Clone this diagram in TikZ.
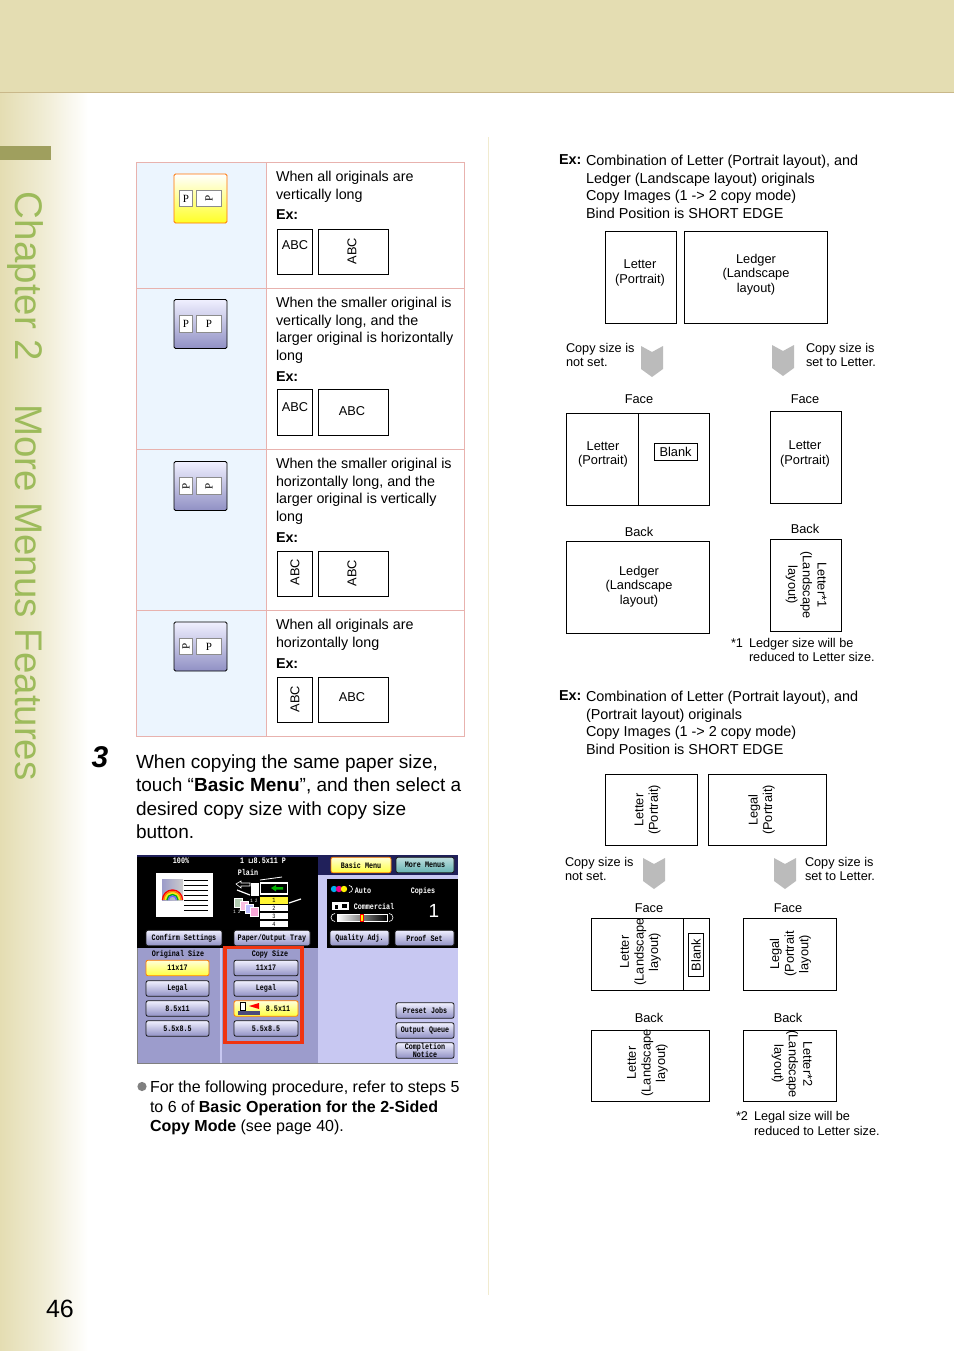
\documentclass[tikz,border=0pt]{standalone}
\usepackage{fontspec}
\setmainfont{Liberation Sans}
\newfontfamily\screenfont[FakeStretch=0.8]{Liberation Mono}
\newfontfamily\glyphfont{Liberation Serif}
\newfontfamily\symfont{DejaVu Sans}
\usetikzlibrary{positioning,shapes.geometric}
\definecolor{bandtan}{HTML}{E4DDB2}
\definecolor{bandline}{HTML}{C9B88A}
\definecolor{barolive}{HTML}{9F9F5E}
\definecolor{chapgreen}{HTML}{9DBB5B}
\definecolor{rulecream}{HTML}{F1EBCF}
\definecolor{cellblue}{HTML}{ECF5FE}
\definecolor{cellline}{HTML}{E8B2AE}
\definecolor{chevgray}{HTML}{BBBBBB}
\definecolor{lavtop}{HTML}{F0F0FF}
\definecolor{lavbot}{HTML}{9090C4}
\definecolor{panel}{HTML}{9C9CCC}
\definecolor{panellight}{HTML}{C8C8F2}
\definecolor{navy}{HTML}{20205A}
\definecolor{redframe}{HTML}{F03410}
\tikzset{
  every node/.style={inner sep=0pt,outer sep=0pt},
  tabletext/.style={anchor=north west,align=left,font=\fontsize{14.3}{17.8}\selectfont},
  righttext/.style={anchor=north west,align=left,font=\fontsize{14.4}{17.7}\selectfont},
  smalltext/.style={anchor=north west,align=left,font=\fontsize{12.7}{14.4}\selectfont},
  sidelabel/.style={font=\fontsize{12.8}{14.6}\selectfont,align=center},
  abc/.style={draw,line width=.6pt},
  abclabel/.style={font=\fontsize{12.8}{15}\selectfont},
  sheet/.style={draw,line width=.8pt},
  sheetwh/.style n args={2}{minimum width=#1pt-.8pt,minimum height=#2pt-.8pt,xshift=-.4pt,yshift=.4pt},
  modekey/.style={draw=black,rounded corners=1.5pt,line width=.8pt,top color=lavtop,bottom color=lavbot,minimum width=53pt,minimum height=49pt},
  modekeyon/.style={draw=orange!90!red,rounded corners=1.5pt,line width=.8pt,top color=white,bottom color=yellow!85!white,minimum width=53pt,minimum height=49pt},
  pagekey/.style={draw=black!45,fill=white,line width=.8pt,minimum height=16.5pt,font=\glyphfont\fontsize{11}{11}\selectfont},
  screenbtn/.style={draw=black!90,rounded corners=2pt,line width=.8pt,top color=lavtop,bottom color=lavbot,font=\screenfont\bfseries\fontsize{8.4}{7.8}\selectfont,align=center,minimum height=15.5pt},
  screenon/.style={screenbtn,top color=yellow!15,bottom color=yellow!75,draw=orange},
  screentext/.style={font=\screenfont\bfseries\fontsize{8.4}{8.4}\selectfont},
  chevdown/.pic={\fill[chevgray] (0,0) -- (11,6) -- (22,0) -- (22,23) -- (11,31) -- (0,23) -- cycle;}
}
\begin{document}
\begin{tikzpicture}[x=1pt,y=-1pt]
\useasboundingbox (0,0) rectangle (954,1351);
% page margins
\shade[left color=bandtan,right color=white,middle color=bandtan!55] (0,92) rectangle (88,1351);
\fill[bandtan] (0,0) rectangle (954,92);
\draw[bandline,line width=.8pt] (0,92) -- (954,92);
\fill[barolive] (0,146) rectangle (51,160);
\node[rotate=-90,anchor=west,text=chapgreen,font=\fontsize{38.5}{40}\selectfont] (chapter) at (25,192) {Chapter 2\hspace{43pt}More Menus Features};
\node[font=\fontsize{25}{25}\selectfont] (pageno) at (60,1309) {46};
\coordinate (ruletop) at (488.5,137);
\coordinate (rulebot) at (488.5,1295);
\draw[rulecream,line width=1pt] (ruletop) -- (rulebot);

% table
\fill[cellblue] (136.5,162.5) rectangle (266.5,736.5);
\draw[cellline,line width=.7pt] (136.5,162.5) rectangle (464.5,736.5);
\draw[cellline,line width=.7pt] (266.5,162.5) -- (266.5,736.5);
\foreach \rowy in {288.5,449.5,610.5} \draw[cellline,line width=.7pt] (136.5,\rowy) -- (464.5,\rowy);

% mode keys
\node[modekeyon] (keya) at (200.5,198.5) {};
\node[modekey] (keyb) at (200.5,324) {};
\node[modekey] (keyc) at (200.5,486) {};
\node[modekey] (keyd) at (200.5,646.5) {};
\foreach \keyn/\keyy/\lt/\rt in {a/198.5/0/90,b/324/0/0,c/486/90/90,d/646.5/90/0}{
  \node[pagekey,minimum width=13pt] (smallp\keyn) at (186,\keyy) {\rotatebox{\lt}{P}};
  \node[pagekey,minimum width=25.5pt] (largep\keyn) at (209,\keyy) {\rotatebox{\rt}{P}};
}

% table text
\node[tabletext] (rowa) at (276,171) {When all originals are\\vertically long\\[3pt]\textbf{Ex:}};
\node[tabletext] (rowb) at (276,297) {When the smaller original is\\vertically long, and the\\larger original is horizontally\\long\\[2.5pt]\textbf{Ex:}};
\node[tabletext] (rowc) at (276,458) {When the smaller original is\\horizontally long, and the\\larger original is vertically\\long\\[2.5pt]\textbf{Ex:}};
\node[tabletext] (rowd) at (276,619) {When all originals are\\horizontally long\\[4pt]\textbf{Ex:}};
% samples
\node[abc,sheetwh={36}{46}] (abca) at (295,252) {};
\node[abclabel] (abcatxt) at (295,245) {ABC};
\node[abc,sheetwh={71}{46}] (abcb) at (353.5,252) {};
\node[abclabel,rotate=90] (abcbtxt) at (352,251) {ABC};
\node[abc,sheetwh={36}{47}] (abcc) at (295,412.5) {};
\node[abclabel] (abcctxt) at (295,407) {ABC};
\node[abc,sheetwh={71}{47}] (abcd) at (353.5,412.5) {};
\node[abclabel] (abcdtxt) at (352,411) {ABC};
\node[abc,sheetwh={36}{46}] (abce) at (295,574) {};
\node[abclabel,rotate=90] (abcetxt) at (295,572) {ABC};
\node[abc,sheetwh={71}{46}] (abcf) at (353.5,574) {};
\node[abclabel,rotate=90] (abcftxt) at (352,573) {ABC};
\node[abc,sheetwh={36}{46}] (abcg) at (295,700) {};
\node[abclabel,rotate=90] (abcgtxt) at (295,699) {ABC};
\node[abc,sheetwh={71}{46}] (abch) at (353.5,700) {};
\node[abclabel] (abchtxt) at (352,697) {ABC};

% step 3
\node[font=\bfseries\itshape\fontsize{30}{30}\selectfont] (stepno) at (100,757) {3};
\node[anchor=north west,align=left,font=\fontsize{19}{23.4}\selectfont] (steptext) at (136,754.5) {When copying the same paper size,\\touch “\textbf{Basic Menu}”, and then select a\\desired copy size with copy size\\button.};

% screen backgrounds
\fill[panellight] (318,855) rectangle (458,1063);
\fill[black] (137,855) rectangle (318,948);
\fill[navy] (318,855) rectangle (458,875);
\fill[black] (327,879) rectangle (458,948);
\fill[panel] (137,948) rectangle (220,1063);
\fill[panel] (222,948) rectangle (318,1063);
\fill[panellight] (220,948) rectangle (222,1063);
\draw[gray,line width=.8pt] (137,948) -- (137,1063) -- (458,1063);
\fill[navy] (137,855) rectangle (318,856.5);

% screen top left
\fill[white] (156,873) rectangle (213,917);
\shade[left color=blue!30!gray!60,right color=gray!40] (162,879) rectangle (183,900);
\foreach \arcr/\arcc in {10/red,8.5/orange,7/yellow,5.5/green!70!black,4/blue!60}
  \draw[\arcc,line width=1.4pt] (172.5,900) ++(\arcr,0) arc[start angle=0,end angle=-180,radius=\arcr];
\foreach \liney in {880,885,890,895,900,905,910} \draw[black,line width=.9pt] (184,\liney) -- (208,\liney);
\node[screentext,text=white] (zoomval) at (181,861) {100\%};
\node[screentext,text=white] (papersize) at (263,861) {1 {\symfont\fontsize{7}{7}\selectfont ⊔}8.5x11 P};
\node[screentext,text=white] (papertype) at (248,872) {Plain};
\fill[white] (251,883) rectangle (259,896);
\fill[white] (260,882) rectangle (288,895);
\fill[black] (261,884) rectangle (287,893);
\fill[green!70!black] (271,888) -- (276,885) -- (276,887) -- (283,887) -- (283,889.5) -- (276,889.5) -- (276,891.5) -- cycle;
\draw[white,line width=.6pt] (236,884) -- (241,881) -- (241,883) -- (250,883) -- (250,886) -- (241,886) -- (241,888) -- cycle;
\draw[white,line width=1.2pt] (237,890) -- (250,895);
\draw[white,line width=1.2pt] (289,903) -- (301,899);
\draw[white,line width=.8pt] (260,880) -- (282,877);
% trays
\fill[yellow!80] (260,897) rectangle (288,903.5);
\foreach \trayy in {905,913,921} \fill[white] (260,\trayy) rectangle (288,\trayy+6);
\foreach \trayn/\trayy in {1/900,2/908,3/916,4/924} \node[font=\screenfont\fontsize{6.5}{6.5}\selectfont] (tray\trayn) at (274,\trayy) {\trayn};
% paper stack
\foreach \stackn/\stackx/\stacky/\stackc in {a/234/898/green!20!gray!50,b/240/901/magenta!25,c/245/904/blue!25,d/250/907/magenta!35}
  \fill[\stackc,draw=white,line width=.4pt] (\stackx,\stacky) rectangle +(8,9.5);
\node[font=\screenfont\fontsize{5}{5}\selectfont,text=white] (stackb) at (254,901) {1 2};
\node[font=\screenfont\fontsize{5}{5}\selectfont,text=white] (stacka) at (237,912) {1 2};

% screen top right
\foreach \dotx/\dotc in {334/cyan,339/magenta,344/yellow}
  \fill[\dotc] (\dotx,889) circle (3.2);
\draw[white,line width=.6pt] (349,885.5) arc[start angle=-90,end angle=90,radius=3.5];
\node[screentext,text=white] (auto) at (363,891) {Auto};
\node[screentext,text=white] (copies) at (423,891) {Copies};
\node[font=\fontsize{19}{19}\selectfont,text=white] (copynum) at (434,911) {1};
\fill[white] (332,902) rectangle (349,910);
\fill[black] (335,905) rectangle (338,909);
\fill[black] (342,904) rectangle (347,908);
\node[screentext,text=white] (commercial) at (374,906) {Commercial};
\shade[left color=white,right color=black] (337,914) rectangle (387,921);
\draw[white,line width=.4pt] (337,914) rectangle (387,921);
\fill[yellow,draw=red,line width=.4pt] (360.5,914) rectangle (363.5,921);
\draw[white,line width=.6pt] (389,913.5) arc[start angle=-90,end angle=90,radius=4];
\draw[white,line width=.6pt] (335,913.5) arc[start angle=-90,end angle=-270,radius=4];

% screen buttons
\node[screenbtn,minimum width=76pt] (confirm) at (184,938) {Confirm Settings};
\node[screenbtn,minimum width=76pt] (tray) at (272,938) {Paper/Output Tray};
\node[screenbtn,minimum width=59pt] (quality) at (359.5,938) {Quality Adj.};
\node[screenbtn,minimum width=59pt] (proof) at (424.5,938) {Proof Set};
\node[screenon,minimum width=60pt] (basic) at (361,865) {Basic Menu};
\node[screenbtn,minimum width=58pt,top color=teal!25,bottom color=teal!60] (more) at (425,865) {More Menus};
\node[screentext] (origlabel) at (178,954) {Original Size};
\node[screentext] (copylabel) at (270,954) {Copy Size};
\node[screenon,minimum width=63pt] (origa) at (177.5,968) {11x17};
\node[screenbtn,minimum width=63pt] (origb) at (177.5,988.5) {Legal};
\node[screenbtn,minimum width=63pt] (origc) at (177.5,1008.5) {8.5x11};
\node[screenbtn,minimum width=63pt] (origd) at (177.5,1028.5) {5.5x8.5};
\node[screenbtn,minimum width=64pt] (copya) at (266,968) {11x17};
\node[screenbtn,minimum width=64pt] (copyb) at (266,988.5) {Legal};
\node[screenon,minimum width=64pt] (copyc) at (266,1008.5) {\hspace{24pt}8.5x11};
\node[screenbtn,minimum width=64pt] (copyd) at (266,1028.5) {5.5x8.5};
\node[screenbtn,minimum width=58pt] (preset) at (425,1010.5) {Preset Jobs};
\node[screenbtn,minimum width=58pt] (queue) at (425,1030.5) {Output Queue};
\node[screenbtn,minimum width=58pt] (notice) at (425,1050.5) {Completion\\Notice};
% tray icon on key
\fill[white,draw=black,line width=.3pt] (240,1002) rectangle (245,1010);
\fill[navy!80] (238,1011) rectangle (260,1015);
\fill[red] (249,1006) -- (259,1003) -- (259,1009) -- cycle;
\draw[redframe,line width=3.4pt] (225,947.5) rectangle (302,1042.5);

% bullet paragraph
\fill[gray] (142,1086.5) circle (4.6);
\node[anchor=north west,align=left,font=\fontsize{16}{19.5}\selectfont] (bullettext) at (150,1081) {For the following procedure, refer to steps 5\\to 6 of \textbf{Basic Operation for the 2-Sided}\\\textbf{Copy Mode} (see page 40).};

% example one
\node[righttext] (exa) at (559,155) {\textbf{Ex:}};
\node[righttext] (exatext) at (586,155) {Combination of Letter (Portrait layout), and\\Ledger (Landscape layout) originals\\Copy Images (1 -> 2 copy mode)\\Bind Position is SHORT EDGE};
\node[sheet,sheetwh={72}{93}] (origletter) at (641,277.5) {};
\node[sidelabel] (origlettertxt) at (640,273) {Letter\\(Portrait)};
\node[sheet,sheetwh={144}{93}] (origledger) at (756,277.5) {};
\node[sidelabel] (origledgertxt) at (756,274.5) {Ledger\\(Landscape\\layout)};
\pic at (641,346) {chevdown};
\pic at (772,345) {chevdown};
\node[smalltext] (notsetb) at (566,343) {Copy size is\\not set.};
\node[smalltext] (setb) at (806,343) {Copy size is\\set to Letter.};
\node[sidelabel] (facea) at (639,399) {Face};
\node[sidelabel] (faceb) at (805,399) {Face};
\node[sheet,sheetwh={144}{93}] (sidea) at (638,459.5) {};
\draw[line width=.8pt] (sidea.north -| 638,0) -- (sidea.south -| 638,0);
\node[sidelabel] (sidealbl) at (603,454.5) {Letter\\(Portrait)};
\node[sheet,sheetwh={44}{18},sidelabel] (blanka) at (676,452.5) {Blank};
\node[sheet,sheetwh={72}{93}] (sideb) at (806,457.5) {};
\node[sidelabel] (sideblbl) at (805,454) {Letter\\(Portrait)};
\node[sidelabel] (backa) at (639,532) {Back};
\node[sidelabel] (backb) at (805,529) {Back};
\node[sheet,sheetwh={144}{93}] (sidec) at (638,587.5) {};
\node[sidelabel] (sideclbl) at (639,586.5) {Ledger\\(Landscape\\layout)};
\node[sheet,sheetwh={72}{93}] (sided) at (806,585.5) {};
\node[sidelabel,rotate=-90] (sidedlbl) at (806,585) {Letter*1\\(Landscape\\layout)};
\node[smalltext] (notea) at (731,638) {*1\hspace{6pt}Ledger size will be\\\hspace{18pt}reduced to Letter size.};

% example two
\node[righttext] (exb) at (559,691) {\textbf{Ex:}};
\node[righttext] (exbtext) at (586,691) {Combination of Letter (Portrait layout), and\\(Portrait layout) originals\\Copy Images (1 -> 2 copy mode)\\Bind Position is SHORT EDGE};
\node[sheet,sheetwh={93}{72}] (origlettb) at (651.5,810) {};
\node[sidelabel,rotate=90] (origlettlbl) at (647.5,810) {Letter\\(Portrait)};
\node[sheet,sheetwh={119}{72}] (origlegal) at (767.5,810) {};
\node[sidelabel,rotate=90] (origlegallbl) at (761.5,810) {Legal\\(Portrait)};
\pic at (643,858) {chevdown};
\pic at (774,858) {chevdown};
\node[smalltext] (notsetc) at (565,857) {Copy size is\\not set.};
\node[smalltext] (setc) at (805,857) {Copy size is\\set to Letter.};
\node[sidelabel] (facec) at (649,908) {Face};
\node[sidelabel] (faced) at (788,908) {Face};
\node[sheet,sheetwh={119}{73}] (sidee) at (650.5,954.5) {};
\draw[line width=.8pt] (sidee.north -| 683,0) -- (sidee.south -| 683,0);
\node[sidelabel,rotate=90] (sideelbl) at (640.5,952) {Letter\\(Landscape\\layout)};
\node[sheet,sheetwh={16}{44}] (blankb) at (696,955) {};
\node[sidelabel,rotate=90] (blankblbl) at (696,955) {Blank};
\node[sheet,sheetwh={93.5}{73}] (sidef) at (790.5,954.5) {};
\node[sidelabel,rotate=90] (sideflbl) at (790.5,954) {Legal\\(Portrait\\layout)};
\node[sidelabel] (backc) at (649,1018) {Back};
\node[sidelabel] (backd) at (788,1018) {Back};
\node[sheet,sheetwh={119}{72}] (sideg) at (650.5,1066) {};
\node[sidelabel,rotate=90] (sideglbl) at (647.5,1063) {Letter\\(Landscape\\layout)};
\node[sheet,sheetwh={93.5}{72}] (sideh) at (790.5,1066) {};
\node[sidelabel,rotate=-90] (sidehlbl) at (792,1064) {Letter*2\\(Landscape\\layout)};
\node[smalltext] (noteb) at (736,1111.5) {*2\hspace{6pt}Legal size will be\\\hspace{18pt}reduced to Letter size.};
\end{tikzpicture}
\end{document}
